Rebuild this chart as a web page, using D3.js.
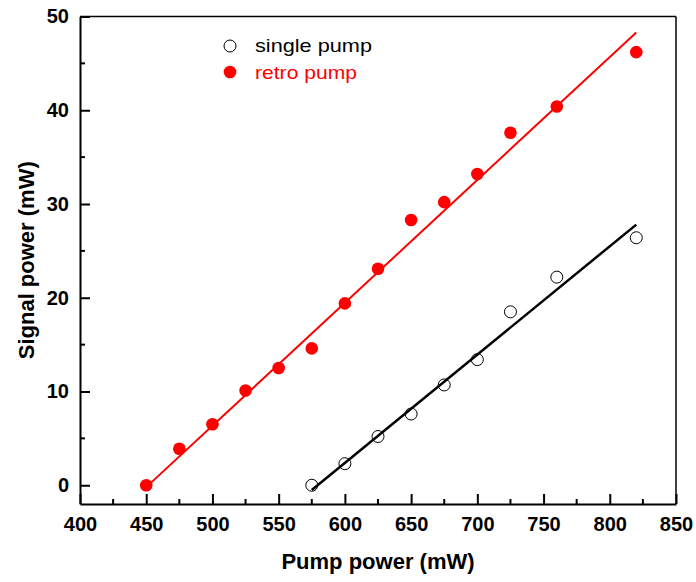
<!DOCTYPE html>
<html>
<head>
<meta charset="utf-8">
<script src="https://cdn.jsdelivr.net/npm/d3@7"></script>
<style>
  body { margin: 0; background: #fff; }
  svg text { font-family: "Liberation Sans", Arial, sans-serif; }
</style>
</head>
<body>
<svg id="chart" width="696" height="582"></svg>
<script>
// data
var retroX = [450, 475, 500, 525, 550, 575, 600, 625, 650, 675, 700, 725, 760, 820],
  retroY = [0, 3.9, 6.5, 10.1, 12.5, 14.6, 19.4, 23.1, 28.3, 30.2, 33.2, 37.6, 40.4, 46.2],
  singleX = [575, 600, 625, 650, 675, 700, 725, 760, 820],
  singleY = [0, 2.3, 5.2, 7.6, 10.7, 13.4, 18.5, 22.2, 26.4],
  // fitted lines, endpoints as drawn
  retroFit = [[450, -0.2], [820, 48.3]],
  singleFit = [[575, -0.5], [820, 27.8]],
  xTicks = [400, 450, 500, 550, 600, 650, 700, 750, 800, 850],
  xMinor = [425, 475, 525, 575, 625, 675, 725, 775, 825],
  yTicks = [0, 10, 20, 30, 40, 50],
  yMinor = [5, 15, 25, 35, 45];

var svg = d3.select("#chart"),
  mLeft = 80, mRight = 676, mTop = 16.5, mBottom = 504;

var x = d3.scaleLinear().domain([400, 850]).range([mLeft, mRight]),
  y = d3.scaleLinear().domain([-2, 50]).range([mBottom, mTop]);

// frame
svg.append("line").attr("x1", mLeft).attr("x2", mRight).attr("y1", mTop).attr("y2", mTop)
  .attr("stroke", "#000").attr("stroke-width", 1.5);
svg.append("line").attr("x1", mRight).attr("x2", mRight).attr("y1", mTop).attr("y2", mBottom)
  .attr("stroke", "#000").attr("stroke-width", 1.5);

// axes, ticks pointing inward
var xAxis = svg.append("g").attr("transform", "translate(0," + mBottom + ")")
  .call(d3.axisBottom(x).tickValues(xTicks).tickSizeInner(-10).tickSizeOuter(0).tickPadding(13));
xAxis.selectAll(".tick line").attr("stroke-width", 2);
xAxis.select(".domain").attr("stroke-width", 2);
xAxis.selectAll(".tick text").attr("font-size", 20).attr("font-weight", "bold")
  .attr("font-family", "Liberation Sans, Arial, sans-serif").attr("fill", "#000");
xAxis.selectAll(".minor").data(xMinor).enter().append("line")
  .attr("x1", function (d) { return x(d); }).attr("x2", function (d) { return x(d); })
  .attr("y1", 0).attr("y2", -5).attr("stroke", "#000").attr("stroke-width", 2);

var yAxis = svg.append("g").attr("transform", "translate(" + mLeft + ",0)")
  .call(d3.axisLeft(y).tickValues(yTicks).tickSizeInner(-10).tickSizeOuter(0).tickPadding(11));
yAxis.selectAll(".tick line").attr("stroke-width", 2);
yAxis.select(".domain").attr("stroke-width", 2);
yAxis.selectAll(".tick text").attr("font-size", 20).attr("font-weight", "bold")
  .attr("font-family", "Liberation Sans, Arial, sans-serif").attr("fill", "#000");
yAxis.selectAll(".minor").data(yMinor).enter().append("line")
  .attr("y1", function (d) { return y(d); }).attr("y2", function (d) { return y(d); })
  .attr("x1", 0).attr("x2", 5).attr("stroke", "#000").attr("stroke-width", 2);

// axis titles
svg.append("text").attr("x", (mLeft + mRight) / 2).attr("y", 569)
  .attr("text-anchor", "middle").attr("font-size", 22).attr("font-weight", "bold")
  .text("Pump power (mW)");
svg.append("text").attr("transform", "translate(34," + ((mTop + mBottom) / 2) + ") rotate(-90)")
  .attr("text-anchor", "middle").attr("font-size", 22).attr("font-weight", "bold")
  .text("Signal power (mW)");

// fit lines
var line = d3.line().x(function (d) { return x(d[0]); }).y(function (d) { return y(d[1]); });
svg.append("path").attr("d", line(retroFit)).attr("stroke", "#ff0000")
  .attr("stroke-width", 2).attr("fill", "none");
svg.append("path").attr("d", line(singleFit)).attr("stroke", "#000")
  .attr("stroke-width", 2.5).attr("fill", "none");

// points
svg.selectAll(".retro").data(retroX).enter().append("circle")
  .attr("cx", function (d) { return x(d); })
  .attr("cy", function (d, i) { return y(retroY[i]); })
  .attr("r", 6.3).attr("fill", "#ff0000");
svg.selectAll(".single").data(singleX).enter().append("circle")
  .attr("cx", function (d) { return x(d); })
  .attr("cy", function (d, i) { return y(singleY[i]); })
  .attr("r", 6).attr("fill", "none").attr("stroke", "#000").attr("stroke-width", 1);

// legend
svg.append("circle").attr("cx", 230).attr("cy", 46).attr("r", 6)
  .attr("fill", "none").attr("stroke", "#000").attr("stroke-width", 1);
svg.append("text").attr("x", 255).attr("y", 52).attr("font-size", 19)
  .attr("textLength", 117).attr("lengthAdjust", "spacingAndGlyphs").text("single pump");
svg.append("circle").attr("cx", 230).attr("cy", 72).attr("r", 6.3).attr("fill", "#ff0000");
svg.append("text").attr("x", 255).attr("y", 79).attr("font-size", 19)
  .attr("fill", "#ff0000").attr("textLength", 102).attr("lengthAdjust", "spacingAndGlyphs")
  .text("retro pump");
</script>
</body>
</html>
